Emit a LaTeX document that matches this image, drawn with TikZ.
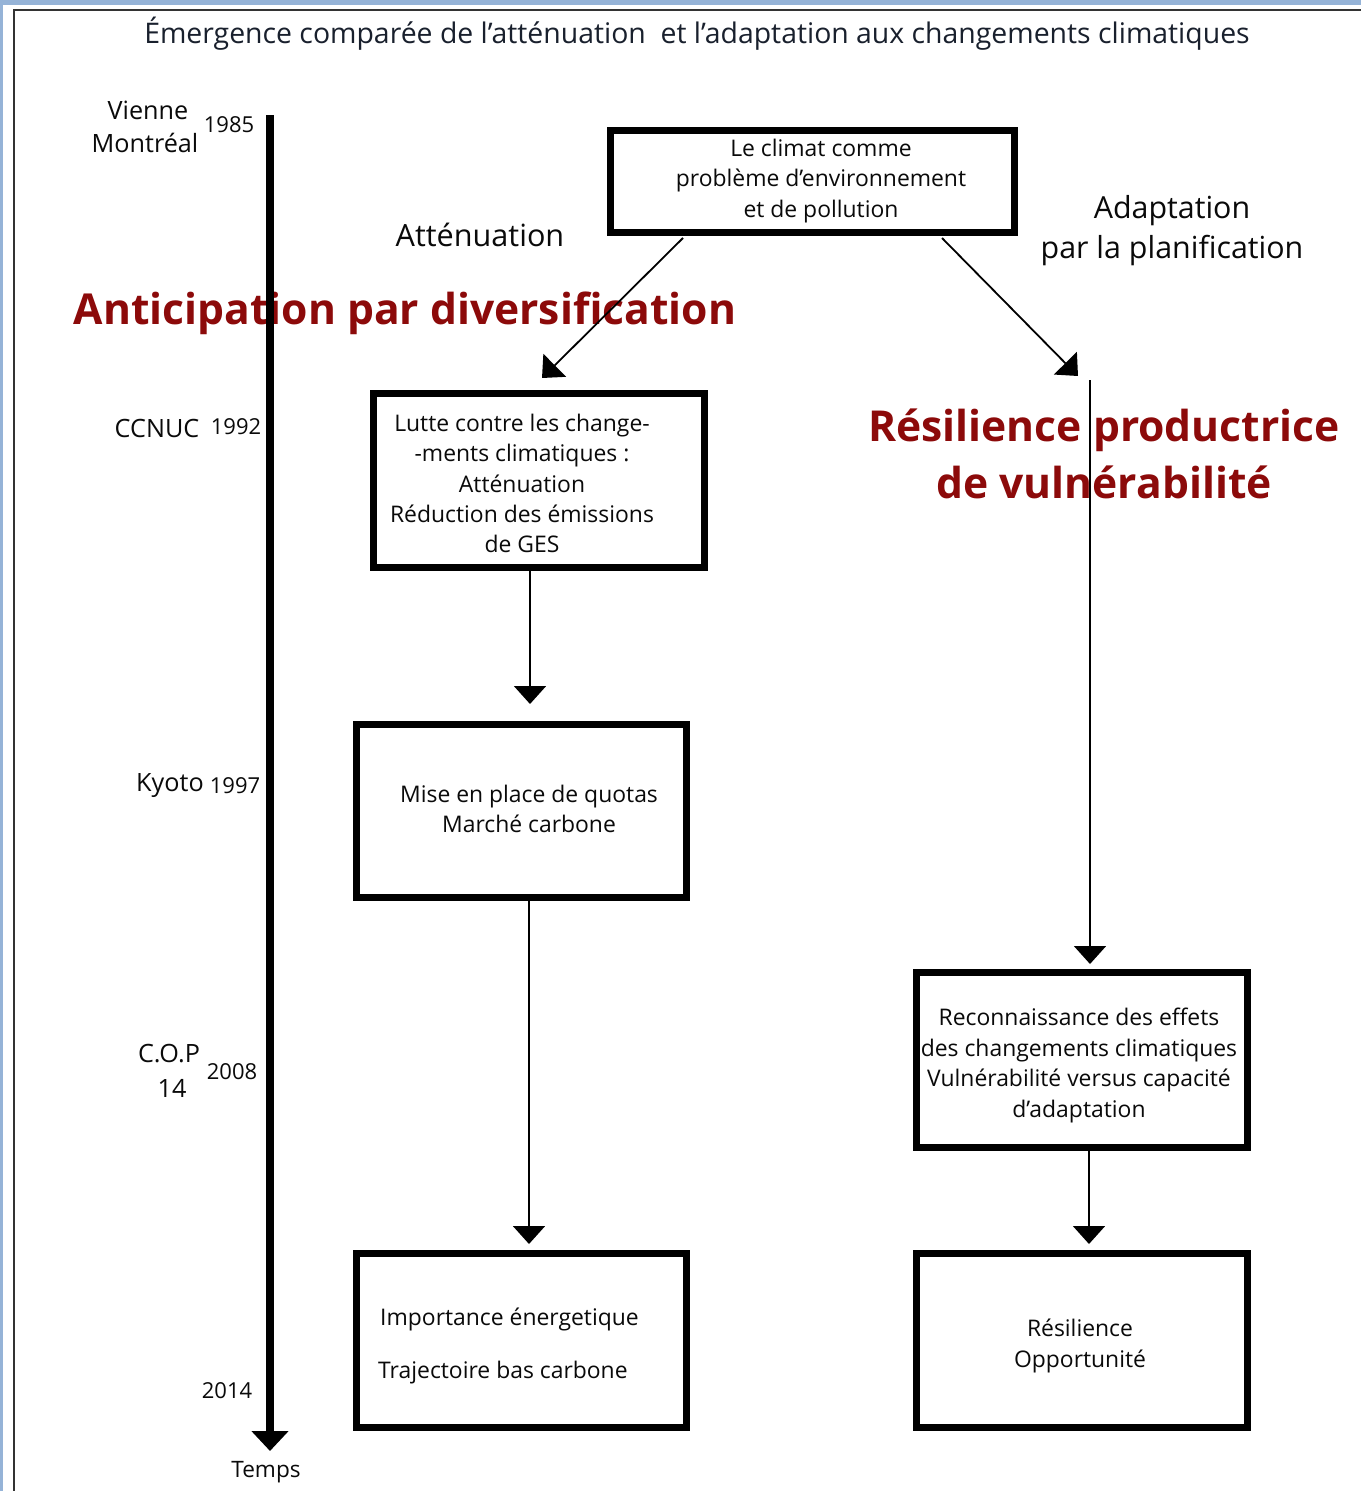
\documentclass[tikz,border=0pt]{standalone}
\usepackage{fontspec}
\setmainfont{Open Sans}
\newfontfamily\redfont{Open Sans}[BoldFont={* Bold}]
\usetikzlibrary{arrows.meta,calc}
\definecolor{frameblue}{RGB}{149,179,215}
\definecolor{titlecol}{RGB}{25,32,45}
\definecolor{darkred}{RGB}{140,10,10}
\definecolor{ink}{RGB}{10,10,10}
\begin{document}
\begin{tikzpicture}[x=1pt,y=-1pt,
  box/.style={draw=black,line width=7pt,minimum width=#1,inner sep=0pt},
  txt/.style={inner sep=0pt,text=ink,align=center,font=\fontsize{22.9}{30.4}\selectfont},
  lbl/.style={inner sep=0pt,text=ink,font=\fontsize{25.2}{33}\selectfont},
  yr/.style={inner sep=0pt,text=ink,font=\fontsize{22}{26}\selectfont},
  redtxt/.style={inner sep=0pt,text=darkred,align=center,font=\fontsize{42.6}{57}\selectfont\redfont\bfseries},
  thin/.style={draw=black,line width=1.8pt,-{Triangle[width=32pt,length=18pt]}},
  timeline/.style={draw=black,line width=8pt,-{Triangle[width=36pt,length=20pt]}}
]
\useasboundingbox (0,0) rectangle (1361,1491);
\fill[frameblue] (0,0) rectangle (1361,1491);
\fill[white] (3,5) rectangle (1361,1491);
\draw[line width=2pt,black!80] (14,1491) -- (14,10) -- (1361,10);

% title
\node[inner sep=0pt,text=titlecol,font=\fontsize{28.4}{32}\selectfont] (title) at (697,34) {Émergence comparée de l’atténuation\ \ et l’adaptation aux changements climatiques};

% red overlay texts (under the lines)
\node[redtxt] (anticip) at (405,313) {Anticipation par diversification};
\node[redtxt] (resil) at (1104,454) {Résilience productrice\\de vulnérabilité};

% boxes
\node[box=404pt,minimum height=102pt] (top) at (812.5,181.5) {};
\node[box=331pt,minimum height=174pt] (b2) at (539,480.5) {};
\node[box=330pt,minimum height=173pt] (b3) at (521.5,811) {};
\node[box=330pt,minimum height=174pt] (b4) at (521.5,1340.5) {};
\node[box=331pt,minimum height=175pt] (b5) at (1082,1060) {};
\node[box=331pt,minimum height=174pt] (b6) at (1082,1340.5) {};

% box texts
\node[txt] (ttop) at (821,181) {Le climat comme\\problème d’environnement\\et de pollution};
\node[txt] (tb2) at (522,483.5) {Lutte contre les change-\\-ments climatiques :\\Atténuation\\Réduction des émissions\\de GES};
\node[txt] (tb3) at (529,809) {Mise en place de quotas\\Marché carbone};
\node[txt,align=left,font=\fontsize{22.9}{53}\selectfont,anchor=west] (tb4) at (378,1345.5) {\hspace*{2pt}Importance énergetique\\Trajectoire bas carbone};
\node[txt] (tb5) at (1079,1065.5) {Reconnaissance des effets\\des changements climatiques\\Vulnérabilité versus capacité\\d’adaptation};
\node[txt] (tb6) at (1080,1346) {Résilience\\Opportunité};

% branch labels
\node[inner sep=0pt,text=ink,font=\fontsize{30.6}{40}\selectfont] (att) at (480,235) {Atténuation};
\node[inner sep=0pt,text=ink,align=center,font=\fontsize{30.4}{40}\selectfont] (adapt) at (1172,231) {Adaptation\\par la planification};

% timeline labels
\node[lbl] (vienne) at (148,110) {Vienne};
\node[lbl] (montreal) at (145,143) {Montréal};
\node[yr] (y1985) at (229,125) {1985};
\node[lbl] (ccnuc) at (157,428) {CCNUC};
\node[yr] (y1992) at (236,427) {1992};
\node[lbl] (kyoto) at (170,786) {Kyoto};
\node[yr] (y1997) at (235,786) {1997};
\node[lbl] (cop) at (169,1054) {C.O.P};
\node[lbl] (cop14) at (172,1088) {14};
\node[yr] (y2008) at (232,1072) {2008};
\node[yr] (y2014) at (227,1391) {2014};
\node[lbl,font=\fontsize{22.6}{26}\selectfont] (temps) at (266,1472) {Temps};

% timeline
\coordinate (tl0) at (270,115);
\coordinate (tl1) at (270,1451);
\draw[timeline] (tl0) -- (tl1);

% connectors
\coordinate (a1s) at (683,238);
\coordinate (a1e) at (542,378);
\draw[thin] (a1s) -- (a1e);
\coordinate (a2s) at (942,238);
\coordinate (a2e) at (1078,376);
\draw[thin] (a2s) -- (a2e);

\coordinate (a3s) at ($(b2.south)+(-9,0)$);
\coordinate (a3e) at (530,704);
\draw[thin] (a3s) -- (a3e);
\coordinate (a4s) at ($(b3.south)+(7.5,0)$);
\coordinate (a4e) at (529,1244);
\draw[thin] (a4s) -- (a4e);
\coordinate (a5s) at (1090,380);
\coordinate (a5e) at (1090,964);
\draw[thin] (a5s) -- (a5e);
\coordinate (a6s) at ($(b5.south)+(7,0)$);
\coordinate (a6e) at (1089,1244);
\draw[thin] (a6s) -- (a6e);
\end{tikzpicture}
\end{document}
